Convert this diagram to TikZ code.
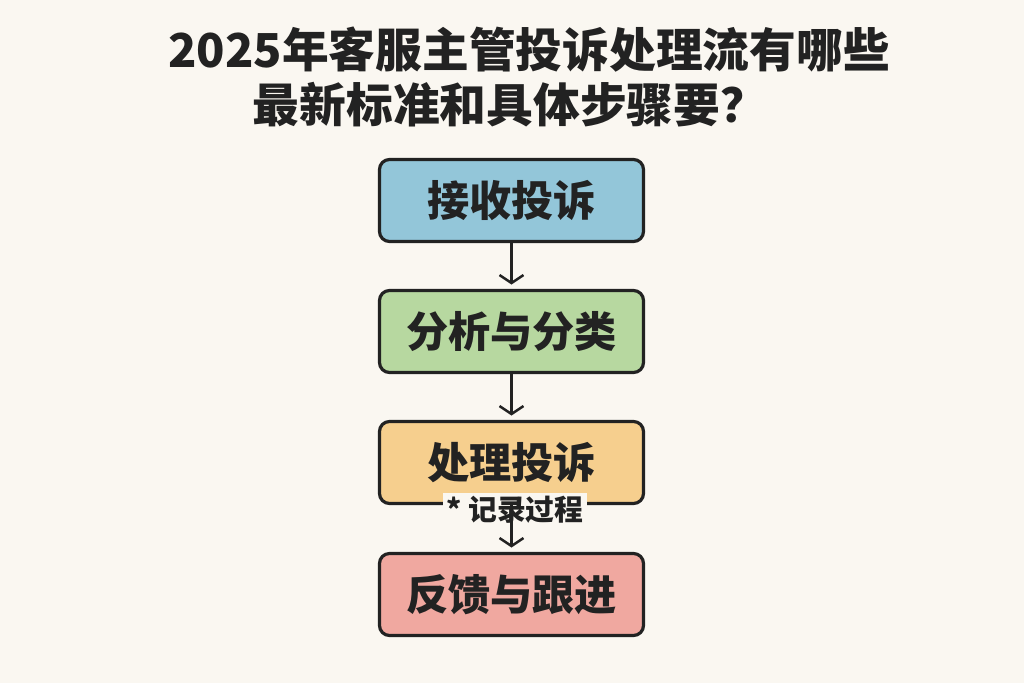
\documentclass[tikz,border=0pt]{standalone}
\usepackage{fontspec}
\setmainfont{Noto Sans CJK SC}
\usepackage{tkz-graph}
\usetikzlibrary{arrows.meta}
\definecolor{paper}{RGB}{250,247,241}
\definecolor{ink}{RGB}{34,34,34}
\definecolor{boxblue}{RGB}{147,198,217}
\definecolor{boxgreen}{RGB}{183,216,160}
\definecolor{boxorange}{RGB}{246,207,142}
\definecolor{boxpink}{RGB}{240,168,160}
\begin{document}
\begin{tikzpicture}
\GraphInit[vstyle=Empty]
\useasboundingbox[fill=paper] (0,0) rectangle (10.24,6.83);
\tikzset{TitleStyle/.style ={text=ink, font=\fontsize{13.3}{15}\selectfont\bfseries}}
\node[TitleStyle] (T1) at (5.29,6.33) {2025年客服主管投诉处理流有哪些};
\node[TitleStyle] (T2) at (5.10,5.78) {最新标准和具体步骤要？};
\tikzset{VertexStyle/.style ={draw=ink, line width=.9pt, rounded corners=.1cm,
  minimum width=2.64cm, minimum height=.82cm, text=ink,
  font=\fontsize{12}{14}\selectfont\bfseries}}
\tikzset{VertexStyle/.append style ={fill=boxblue}}
\Vertex[x=5.115, y=4.825, L=接收投诉]{A}
\tikzset{VertexStyle/.append style ={fill=boxgreen}}
\Vertex[x=5.115, y=3.515, L=分析与分类]{B}
\tikzset{VertexStyle/.append style ={fill=boxorange}}
\Vertex[x=5.115, y=2.205, L=处理投诉]{C}
\tikzset{VertexStyle/.append style ={fill=boxpink}}
\Vertex[x=5.115, y=0.885, L=反馈与跟进]{D}
\node[fill=paper, inner sep=1pt, text=ink, font=\fontsize{8.2}{10}\selectfont\bfseries]
  (N) at (5.15,1.73) {* 记录过程};
\tikzset{EdgeStyle/.style ={-{Straight Barb[length=.8mm,width=2.4mm]}, line width=.7pt,
  draw=ink, shorten >=.6mm}}
\Edge(A)(B)
\Edge(B)(C)
\Edge(C)(D)
\end{tikzpicture}
\end{document}
